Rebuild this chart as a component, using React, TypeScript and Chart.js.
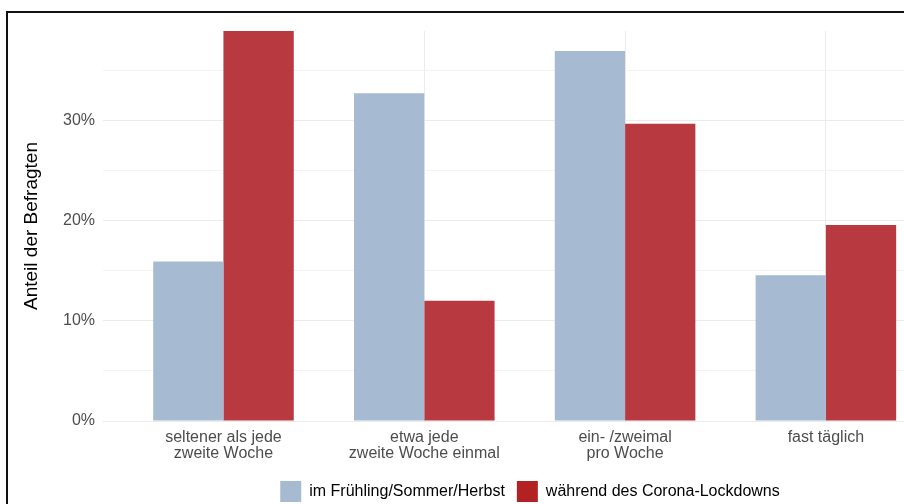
import React, { useEffect, useRef } from "react";
import { Chart, registerables } from "chart.js";

Chart.register(...registerables);

const categories: string[][] = [
  ["seltener als jede", "zweite Woche"],
  ["etwa jede", "zweite Woche einmal"],
  ["ein- /zweimal", "pro Woche"],
  ["fast täglich"],
];
const seriesNames = ["im Frühling/Sommer/Herbst", "während des Corona-Lockdowns"];
const springSummerAutumn = [15.9, 32.7, 36.9, 14.55];
const duringLockdown = [38.9, 12.0, 29.65, 19.55];
const yTicks = [0, 5, 10, 15, 20, 25, 30, 35];
const yMax = 38.9;

const barColors = ["#a6bbd1", "#b8393f"];
const legendColors = ["#a6bbd1", "#b22222"];
const FONT = "'Liberation Sans', Arial, Helvetica, sans-serif";

export default function App() {
  const ref = useRef<HTMLCanvasElement | null>(null);

  useEffect(() => {
    if (!ref.current) return;
    const mk = (vals: number[]) => vals.map((v, i) => ({ x: i, y: v }));
    const chart = new Chart(ref.current, {
      type: "bar",
      data: {
        datasets: [
          {
            label: seriesNames[0],
            data: mk(springSummerAutumn),
            backgroundColor: barColors[0],
            borderWidth: 0,
            categoryPercentage: 0.7,
            barPercentage: 1.0,
          },
          {
            label: seriesNames[1],
            data: mk(duringLockdown),
            backgroundColor: barColors[1],
            borderWidth: 0,
            categoryPercentage: 0.7,
            barPercentage: 1.0,
          },
        ],
      },
      options: {
        responsive: false,
        animation: false,
        devicePixelRatio: 1,
        layout: { padding: { top: 18, left: 0, right: 10, bottom: 0 } },
        plugins: {
          tooltip: { enabled: false },
          legend: {
            position: "bottom",
            fullSize: false,
            labels: {
              boxWidth: 21,
              boxHeight: 21,
              padding: 12,
              color: "#000",
              font: { family: FONT, size: 16 },
              generateLabels: (c: any) => {
                const items = Chart.defaults.plugins.legend.labels.generateLabels(c);
                return items.map((it: any, i: number) => ({
                  ...it,
                  fillStyle: legendColors[i],
                  strokeStyle: legendColors[i],
                  lineWidth: 0,
                }));
              },
            },
          },
        },
        scales: {
          x: {
            type: "linear",
            offset: false,
            min: -0.6,
            max: 3.653,
            afterBuildTicks: (s: any) => {
              s.ticks = categories.map((_, i) => ({ value: i }));
            },
            afterFit: (s: any) => {
              s.height = 48;
            },
            grid: { offset: false, color: "#ebebeb", lineWidth: 1, drawTicks: false },
            border: { display: false },
            ticks: {
              autoSkip: false,
              maxRotation: 0,
              minRotation: 0,
              padding: 9,
              color: "#4d4d4d",
              font: { family: FONT, size: 16, lineHeight: 1.0 },
              callback: (v: any) => categories[Math.round(Number(v))] ?? "",
            },
          },
          y: {
            min: 0,
            max: yMax,
            afterBuildTicks: (s: any) => {
              s.ticks = yTicks.map((v) => ({ value: v }));
            },
            afterFit: (s: any) => {
              s.width = 95;
            },
            grid: {
              drawTicks: false,
              color: (ctx: any) => (ctx.tick && ctx.tick.value % 10 === 0 ? "#ebebeb" : "#f3f3f3"),
              lineWidth: 1,
            },
            border: { display: false },
            ticks: {
              padding: 8,
              color: "#4d4d4d",
              font: { family: FONT, size: 16 },
              callback: (v: any) => (Number(v) % 10 === 0 ? `${v}%` : ""),
            },
            title: {
              display: true,
              text: "Anteil der Befragten",
              color: "#000",
              font: { family: FONT, size: 19, lineHeight: 1 },
              padding: { top: 14.5, bottom: 4 },
            },
          },
        },
      },
    } as any);
    return () => chart.destroy();
  }, []);

  return (
    <div
      style={{
        position: "fixed",
        left: 6,
        top: 11,
        width: 898,
        height: 493,
        overflow: "hidden",
        boxSizing: "border-box",
        borderLeft: "2px solid #111",
        borderTop: "2px solid #111",
        background: "#fff",
      }}
    >
      <canvas ref={ref} width={959} height={499} style={{ width: 959, height: 499, display: "block" }} />
    </div>
  );
}
